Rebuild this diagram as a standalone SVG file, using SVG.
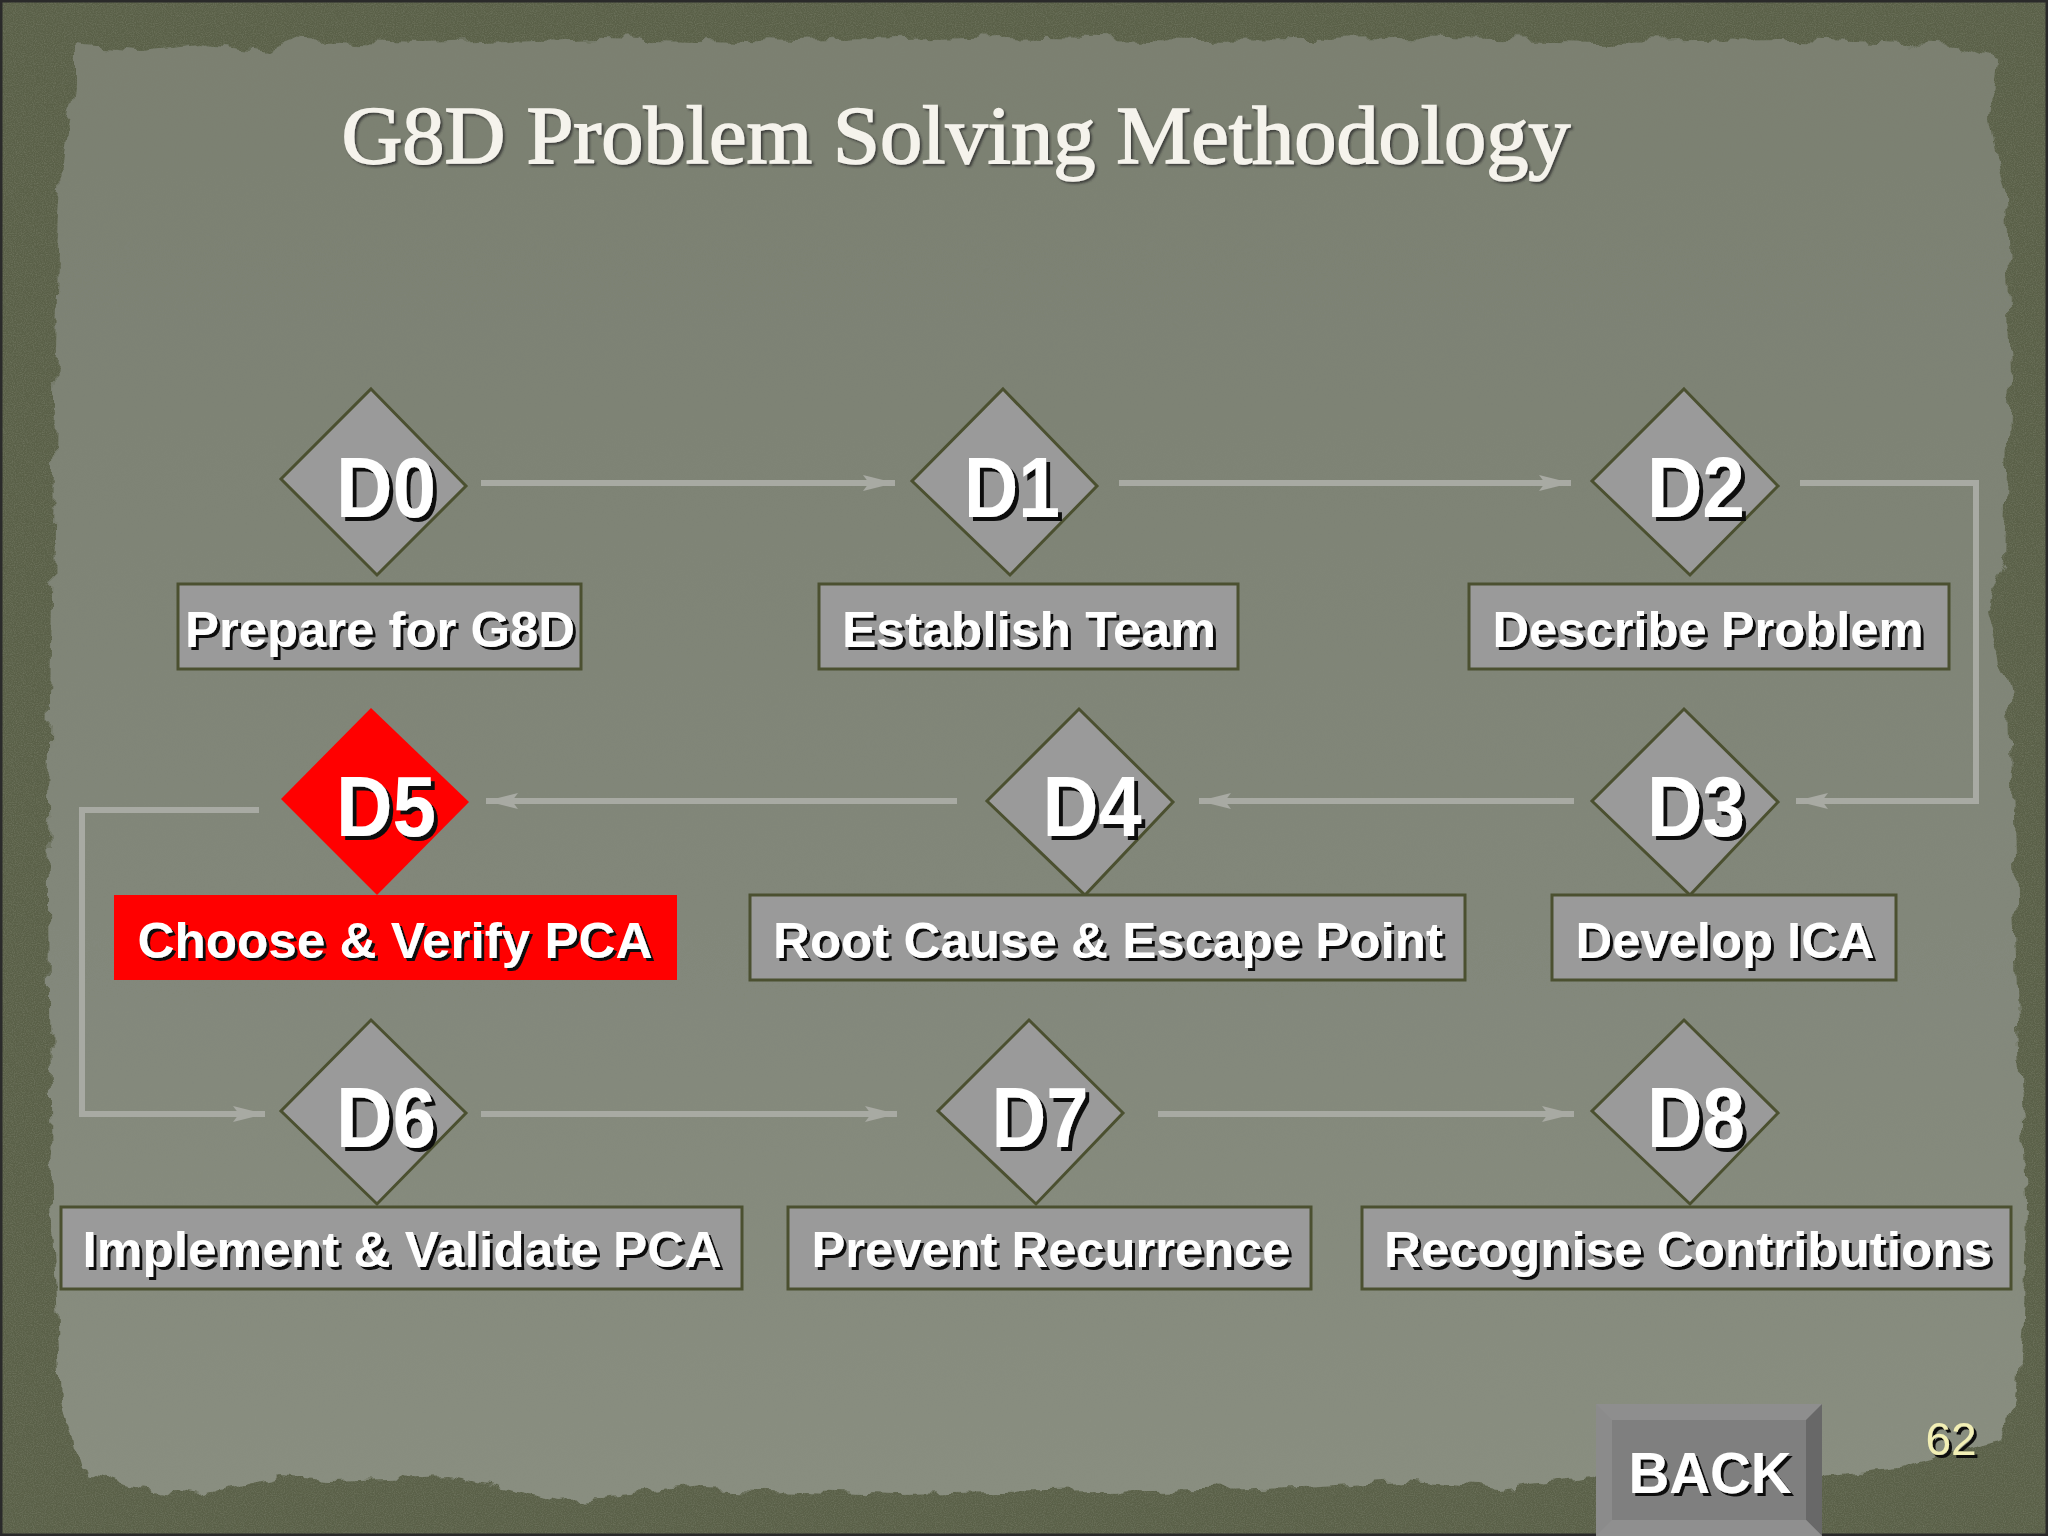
<svg xmlns="http://www.w3.org/2000/svg" width="2048" height="1536" viewBox="0 0 2048 1536">
<defs>
<style>
.dia{fill:#9a9a9a;stroke:#4b5030;stroke-width:3}
.box{fill:#9a9a9a;stroke:#4b5030;stroke-width:3}
.red{fill:#ff0000;stroke:none}
.dt{font-family:"Liberation Sans",Arial,sans-serif;font-weight:bold;font-size:86px;fill:#ffffff;text-anchor:middle;filter:url(#sh)}
.lt{font-family:"Liberation Sans",Arial,sans-serif;font-weight:bold;font-size:50px;fill:#ffffff;text-anchor:middle;filter:url(#sh2)}
.con{fill:none;stroke:#a8aaa3;stroke-width:6;marker-end:url(#arr)}
</style>
<filter id="sh" x="-10%" y="-10%" width="130%" height="130%"><feDropShadow dx="4" dy="4" stdDeviation="0.5" flood-color="#111" flood-opacity="1"/></filter>
<filter id="sh2" x="-10%" y="-10%" width="130%" height="140%"><feDropShadow dx="3" dy="3" stdDeviation="0.5" flood-color="#111" flood-opacity="1"/></filter>
<filter id="tsh" x="-5%" y="-10%" width="110%" height="130%"><feDropShadow dx="2" dy="2" stdDeviation="1" flood-color="#333" flood-opacity="0.8"/></filter>
<filter id="rough" x="-5%" y="-5%" width="110%" height="110%"><feTurbulence type="fractalNoise" baseFrequency="0.04" numOctaves="3" seed="4" result="n"/><feDisplacementMap in="SourceGraphic" in2="n" scale="18" xChannelSelector="R" yChannelSelector="G"/></filter>
<filter id="grain" x="0" y="0" width="100%" height="100%"><feTurbulence type="fractalNoise" baseFrequency="0.9" numOctaves="2" seed="7"/><feColorMatrix type="matrix" values="0 0 0 0 0.2  0 0 0 0 0.22  0 0 0 0 0.15  0 0 0 1.2 -0.45"/></filter>
<linearGradient id="paper" x1="0" y1="0" x2="0" y2="1"><stop offset="0" stop-color="#7b8071"/><stop offset="0.6" stop-color="#82877a"/><stop offset="1" stop-color="#898e80"/></linearGradient>
<marker id="arr" markerUnits="userSpaceOnUse" markerWidth="34" markerHeight="20" refX="32" refY="10" orient="auto"><path d="M0,2 L32,10 L0,18 L6,10 z" fill="#a8aaa3"/></marker>
</defs>
<g id="background">
<rect x="0" y="0" width="2048" height="1536" fill="#5a6048"/>
<rect x="0" y="0" width="2048" height="1536" filter="url(#grain)" opacity="0.9"/>
<path filter="url(#rough)" fill="url(#paper)" d="M75,45 L140,50 L200,44 L270,52 L300,40 L420,44 L600,38 L800,42 L1000,36 L1200,40 L1400,38 L1600,42 L1800,40 L1960,46 L1995,60 L1990,120 L2005,200 L2010,380 L2004,560 L1985,610 L1992,640 L2010,700 L2015,900 L2020,1050 L2026,1200 L2024,1320 L2018,1400 L2000,1440 L1900,1468 L1800,1478 L1600,1476 L1500,1488 L1400,1480 L1300,1486 L1100,1490 L900,1494 L700,1488 L560,1502 L450,1476 L330,1480 L280,1476 L200,1496 L120,1484 L80,1468 L60,1400 L52,1200 L50,1000 L48,800 L52,600 L55,400 L58,250 L64,150 L75,90 Z"/>
<rect x="1" y="1" width="2046" height="1534" fill="none" stroke="#2a2a2a" stroke-width="3"/>
</g>
<g id="title">
<text x="956" y="163" font-family="'Liberation Serif','DejaVu Serif',serif" font-size="83" fill="#f5f3ec" stroke="#f5f3ec" stroke-width="1.6" text-anchor="middle" textLength="1229" lengthAdjust="spacingAndGlyphs" filter="url(#tsh)">G8D Problem Solving Methodology</text>
</g>
<g id="connectors">
<path class="con" d="M481,483 H895"/>
<path class="con" d="M1119,483 H1571"/>
<path class="con" d="M1800,483 H1976 V801 H1796"/>
<path class="con" d="M1574,801 H1199"/>
<path class="con" d="M957,801 H486"/>
<path class="con" d="M259,810 H82 V1114 H265"/>
<path class="con" d="M481,1114 H897"/>
<path class="con" d="M1158,1114 H1574"/>
</g>
<g id="D0">
<polygon class="dia" points="371,389 466,486 377,575 281,479"/>
<text class="dt" x="386" y="517" textLength="100" lengthAdjust="spacingAndGlyphs">D0</text>
<rect class="box" x="178" y="584" width="403" height="85"/>
<text class="lt" x="380" y="647" textLength="390" lengthAdjust="spacingAndGlyphs">Prepare for G8D</text>
</g>
<g id="D1">
<polygon class="dia" points="1003,389 1097,486 1010,575 912,481"/>
<text class="dt" x="1012" y="517" textLength="96" lengthAdjust="spacingAndGlyphs">D1</text>
<rect class="box" x="819" y="584" width="419" height="85"/>
<text class="lt" x="1029" y="647" textLength="374" lengthAdjust="spacingAndGlyphs">Establish Team</text>
</g>
<g id="D2">
<polygon class="dia" points="1684,389 1778,486 1690,575 1592,481"/>
<text class="dt" x="1696" y="517" textLength="98" lengthAdjust="spacingAndGlyphs">D2</text>
<rect class="box" x="1469" y="584" width="480" height="85"/>
<text class="lt" x="1708" y="647" textLength="431" lengthAdjust="spacingAndGlyphs">Describe Problem</text>
</g>
<g id="D3">
<polygon class="dia" points="1684,709 1778,802 1690,895 1592,801"/>
<text class="dt" x="1696" y="836" textLength="98" lengthAdjust="spacingAndGlyphs">D3</text>
<rect class="box" x="1552" y="895" width="344" height="85"/>
<text class="lt" x="1725" y="958" textLength="299" lengthAdjust="spacingAndGlyphs">Develop ICA</text>
</g>
<g id="D4">
<polygon class="dia" points="1079,709 1173,802 1085,895 987,801"/>
<text class="dt" x="1092" y="836" textLength="99" lengthAdjust="spacingAndGlyphs">D4</text>
<rect class="box" x="750" y="895" width="715" height="85"/>
<text class="lt" x="1108" y="958" textLength="670" lengthAdjust="spacingAndGlyphs">Root Cause &amp; Escape Point</text>
</g>
<g id="D5">
<polygon class="red" points="371,708 469,802 377,895 281,799"/>
<text class="dt" x="386" y="836" textLength="100" lengthAdjust="spacingAndGlyphs">D5</text>
<rect class="red" x="114" y="895" width="563" height="85"/>
<text class="lt" x="395" y="958" textLength="515" lengthAdjust="spacingAndGlyphs">Choose &amp; Verify PCA</text>
</g>
<g id="D6">
<polygon class="dia" points="371,1020 466,1113 377,1204 281,1111"/>
<text class="dt" x="386" y="1147" textLength="100" lengthAdjust="spacingAndGlyphs">D6</text>
<rect class="box" x="61" y="1207" width="681" height="82"/>
<text class="lt" x="402" y="1267" textLength="639" lengthAdjust="spacingAndGlyphs">Implement &amp; Validate PCA</text>
</g>
<g id="D7">
<polygon class="dia" points="1029,1020 1123,1113 1036,1204 938,1111"/>
<text class="dt" x="1040" y="1147" textLength="97" lengthAdjust="spacingAndGlyphs">D7</text>
<rect class="box" x="788" y="1207" width="523" height="82"/>
<text class="lt" x="1051" y="1267" textLength="479" lengthAdjust="spacingAndGlyphs">Prevent Recurrence</text>
</g>
<g id="D8">
<polygon class="dia" points="1684,1020 1778,1113 1690,1204 1592,1111"/>
<text class="dt" x="1696" y="1147" textLength="98" lengthAdjust="spacingAndGlyphs">D8</text>
<rect class="box" x="1362" y="1207" width="649" height="82"/>
<text class="lt" x="1688" y="1267" textLength="608" lengthAdjust="spacingAndGlyphs">Recognise Contributions</text>
</g>
<g id="back">
<rect x="1596" y="1404" width="226" height="132" fill="#8a8a8a"/>
<polygon points="1596,1404 1822,1404 1806,1420 1612,1420" fill="#8e8e8e"/>
<polygon points="1596,1404 1612,1420 1612,1520 1596,1536" fill="#8b8b8b"/>
<polygon points="1822,1404 1822,1536 1806,1520 1806,1420" fill="#686868"/>
<polygon points="1596,1536 1612,1520 1806,1520 1822,1536" fill="#8f8f8f"/>
<rect x="1612" y="1420" width="194" height="100" fill="#7f7f7f"/>
<text x="1710" y="1493" font-family="'Liberation Sans',Arial,sans-serif" font-weight="bold" font-size="57" fill="#ffffff" text-anchor="middle" textLength="163" lengthAdjust="spacingAndGlyphs" filter="url(#sh2)">BACK</text>
</g>
<g id="page-number">
<text x="1951" y="1455" font-family="'Liberation Sans',Arial,sans-serif" font-size="46" fill="#f2efb5" text-anchor="middle" filter="url(#sh2)">62</text>
</g>
</svg>
